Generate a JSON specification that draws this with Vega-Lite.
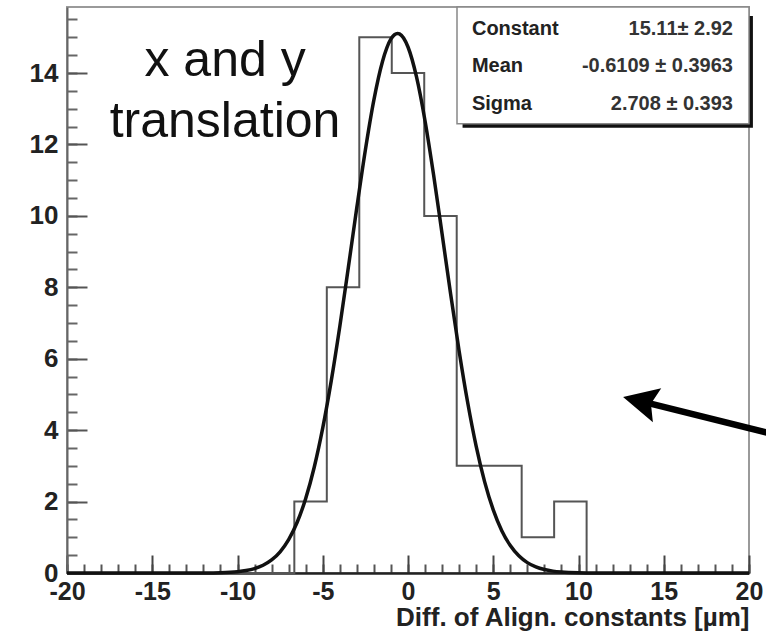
{
  "$schema": "https://vega.github.io/schema/vega-lite/v6.json",
  "width": 682,
  "height": 566,
  "autosize": {"type": "none"},
  "padding": {"left": 67, "top": 7, "right": 17, "bottom": 59},
  "background": "white",
  "config": {
    "view": {"stroke": "#9a9a9a", "strokeWidth": 2},
    "font": "Liberation Sans"
  },
  "datasets": {
    "hist": [
      {"edge": -20, "count": 0},
      {"edge": -18.095, "count": 0},
      {"edge": -16.19, "count": 0},
      {"edge": -14.286, "count": 0},
      {"edge": -12.381, "count": 0},
      {"edge": -10.476, "count": 0},
      {"edge": -8.571, "count": 0},
      {"edge": -6.667, "count": 2},
      {"edge": -4.762, "count": 8},
      {"edge": -2.857, "count": 15},
      {"edge": -0.952, "count": 14},
      {"edge": 0.952, "count": 10},
      {"edge": 2.857, "count": 3},
      {"edge": 4.762, "count": 3},
      {"edge": 6.667, "count": 1},
      {"edge": 8.571, "count": 2},
      {"edge": 10.476, "count": 0},
      {"edge": 12.381, "count": 0},
      {"edge": 14.286, "count": 0},
      {"edge": 16.19, "count": 0},
      {"edge": 18.095, "count": 0},
      {"edge": 20, "count": 0}
    ],
    "fit": [
      {"x": -20, "y": 0},
      {"x": -16, "y": 0},
      {"x": -13, "y": 0.0004},
      {"x": -12, "y": 0.0022},
      {"x": -11, "y": 0.0096},
      {"x": -10, "y": 0.0371},
      {"x": -9.5, "y": 0.0691},
      {"x": -9, "y": 0.1245},
      {"x": -8.5, "y": 0.2168},
      {"x": -8, "y": 0.3651},
      {"x": -7.5, "y": 0.594},
      {"x": -7, "y": 0.934},
      {"x": -6.5, "y": 1.42},
      {"x": -6, "y": 2.086},
      {"x": -5.5, "y": 2.962},
      {"x": -5, "y": 4.063},
      {"x": -4.5, "y": 5.387},
      {"x": -4, "y": 6.905},
      {"x": -3.5, "y": 8.553},
      {"x": -3, "y": 10.239},
      {"x": -2.5, "y": 11.848},
      {"x": -2, "y": 13.249},
      {"x": -1.5, "y": 14.317},
      {"x": -1, "y": 14.955},
      {"x": -0.6109, "y": 15.11},
      {"x": -0.5, "y": 15.097},
      {"x": 0, "y": 14.73},
      {"x": 0.5, "y": 13.891},
      {"x": 1, "y": 12.659},
      {"x": 1.5, "y": 11.151},
      {"x": 2, "y": 9.494},
      {"x": 2.5, "y": 7.812},
      {"x": 3, "y": 6.212},
      {"x": 3.5, "y": 4.773},
      {"x": 4, "y": 3.546},
      {"x": 4.5, "y": 2.546},
      {"x": 5, "y": 1.767},
      {"x": 5.5, "y": 1.184},
      {"x": 6, "y": 0.768},
      {"x": 6.5, "y": 0.481},
      {"x": 7, "y": 0.291},
      {"x": 7.5, "y": 0.17},
      {"x": 8, "y": 0.096},
      {"x": 8.5, "y": 0.0526},
      {"x": 9, "y": 0.0278},
      {"x": 10, "y": 0.007},
      {"x": 11, "y": 0.0015},
      {"x": 13, "y": 0},
      {"x": 16, "y": 0},
      {"x": 20, "y": 0}
    ]
  },
  "layer": [
    {
      "data": {"name": "hist"},
      "mark": {"type": "line", "interpolate": "step-after", "color": "#555555", "strokeWidth": 2, "clip": false},
      "encoding": {
        "x": {"field": "edge", "type": "quantitative", "scale": {"domain": [-20, 20], "nice": false, "zero": false},
          "axis": {"orient": "bottom", "values": [-20,-19,-18,-17,-16,-15,-14,-13,-12,-11,-10,-9,-8,-7,-6,-5,-4,-3,-2,-1,0,1,2,3,4,5,6,7,8,9,10,11,12,13,14,15,16,17,18,19,20],
            "tickSize": -9, "tickWidth": 2, "tickColor": "#555555", "labels": false, "domain": false, "grid": false, "title": null}},
        "y": {"field": "count", "type": "quantitative", "scale": {"domain": [0, 15.85], "nice": false, "zero": false},
          "axis": {"orient": "left", "values": [0,0.5,1,1.5,2,2.5,3,3.5,4,4.5,5,5.5,6,6.5,7,7.5,8,8.5,9,9.5,10,10.5,11,11.5,12,12.5,13,13.5,14,14.5,15,15.5],
            "tickSize": -10, "tickWidth": 2, "tickColor": "#666666", "labels": false, "domain": false, "grid": false, "title": null}}
      }
    },
    {
      "data": {"name": "fit"},
      "mark": {"type": "line", "interpolate": "monotone", "color": "#111111", "strokeWidth": 3.5, "clip": false},
      "encoding": {
        "x": {"field": "x", "type": "quantitative", "scale": {"domain": [-20, 20], "nice": false, "zero": false},
          "axis": {"orient": "bottom", "values": [-20,-15,-10,-5,0,5,10,15,20], "tickSize": -18, "tickWidth": 2, "tickColor": "#444444",
            "domainColor": "#222222", "domainWidth": 2.5, "labelFontSize": 25, "labelFontWeight": "bold", "labelColor": "#222222",
            "labelExpr": "replace(datum.label, '−', '-')",
            "labelPadding": 24, "labelFlush": false, "labelOverlap": false, "grid": false,
            "title": "Diff. of Align. constants [µm]", "titleFontSize": 26, "titleFontWeight": "bold", "titleColor": "#222222",
            "titleAnchor": "end", "titleAlign": "right", "titlePadding": 0}},
        "y": {"field": "y", "type": "quantitative", "scale": {"domain": [0, 15.85], "nice": false, "zero": false},
          "axis": {"orient": "left", "values": [0,2,4,6,8,10,12,14], "tickSize": -20, "tickWidth": 2, "tickColor": "#555555",
            "domainColor": "#666666", "domainWidth": 2, "labelFontSize": 26, "labelFontWeight": "bold", "labelColor": "#222222",
            "labelPadding": 29, "labelFlush": false, "labelOverlap": false, "grid": false, "title": null}}
      }
    },
    {
      "data": {"values": [{}]},
      "mark": {"type": "rect", "fill": "#111111", "clip": false},
      "encoding": {
        "x": {"datum": 3.2, "type": "quantitative", "scale": {"domain": [-20, 20], "nice": false, "zero": false}, "axis": null},
        "x2": {"datum": 20.23},
        "y": {"datum": 12.47, "type": "quantitative", "scale": {"domain": [0, 15.85], "nice": false, "zero": false}, "axis": null},
        "y2": {"datum": 15.6}
      }
    },
    {
      "data": {"values": [{}]},
      "mark": {"type": "rect", "fill": "white", "stroke": "#888888", "strokeWidth": 1.5, "clip": false},
      "encoding": {
        "x": {"datum": 2.874, "type": "quantitative", "scale": {"domain": [-20, 20], "nice": false, "zero": false}, "axis": null},
        "x2": {"datum": 20.0},
        "y": {"datum": 12.58, "type": "quantitative", "scale": {"domain": [0, 15.85], "nice": false, "zero": false}, "axis": null},
        "y2": {"datum": 15.85}
      }
    },
    {
      "data": {"values": [{}]},
      "mark": {"type": "text", "text": ["Constant", "Mean", "Sigma"], "lineHeight": 37.5, "align": "left", "baseline": "alphabetic",
        "fontSize": 20, "fontWeight": "bold", "color": "#222222"},
      "encoding": {
        "x": {"datum": 3.75, "type": "quantitative", "scale": {"domain": [-20, 20], "nice": false, "zero": false}, "axis": null},
        "y": {"datum": 15.07, "type": "quantitative", "scale": {"domain": [0, 15.85], "nice": false, "zero": false}, "axis": null}
      }
    },
    {
      "data": {"values": [{}]},
      "mark": {"type": "text", "text": ["15.11± 2.92", "-0.6109 ± 0.3963", "2.708 ± 0.393"], "lineHeight": 37.5, "align": "right", "baseline": "alphabetic",
        "fontSize": 20, "fontWeight": "bold", "color": "#333333"},
      "encoding": {
        "x": {"datum": 19.06, "type": "quantitative", "scale": {"domain": [-20, 20], "nice": false, "zero": false}, "axis": null},
        "y": {"datum": 15.07, "type": "quantitative", "scale": {"domain": [0, 15.85], "nice": false, "zero": false}, "axis": null}
      }
    },
    {
      "data": {"values": [{}]},
      "mark": {"type": "text", "text": ["x and y", "translation"], "lineHeight": 61, "align": "center", "baseline": "alphabetic",
        "fontSize": 50, "color": "#111111"},
      "encoding": {
        "x": {"datum": -10.73, "type": "quantitative", "scale": {"domain": [-20, 20], "nice": false, "zero": false}, "axis": null},
        "y": {"datum": 13.92, "type": "quantitative", "scale": {"domain": [0, 15.85], "nice": false, "zero": false}, "axis": null}
      }
    },
    {
      "data": {"values": [{}]},
      "mark": {"type": "rule", "color": "#000000", "strokeWidth": 6.5, "clip": false},
      "encoding": {
        "x": {"datum": 13.81, "type": "quantitative", "scale": {"domain": [-20, 20], "nice": false, "zero": false}, "axis": null},
        "x2": {"datum": 21.3},
        "y": {"datum": 4.79, "type": "quantitative", "scale": {"domain": [0, 15.85], "nice": false, "zero": false}, "axis": null},
        "y2": {"datum": 3.9}
      }
    },
    {
      "data": {"values": [{}]},
      "mark": {"type": "point", "shape": "M0,-1.2L1,0.8L0,0.44L-1,0.8Z", "size": 1225, "angle": 283.8, "filled": true, "color": "#000000", "opacity": 1, "clip": false},
      "encoding": {
        "x": {"datum": 13.81, "type": "quantitative", "scale": {"domain": [-20, 20], "nice": false, "zero": false}, "axis": null},
        "y": {"datum": 4.79, "type": "quantitative", "scale": {"domain": [0, 15.85], "nice": false, "zero": false}, "axis": null}
      }
    }
  ],
  "resolve": {"axis": {"x": "independent", "y": "independent"}}
}
